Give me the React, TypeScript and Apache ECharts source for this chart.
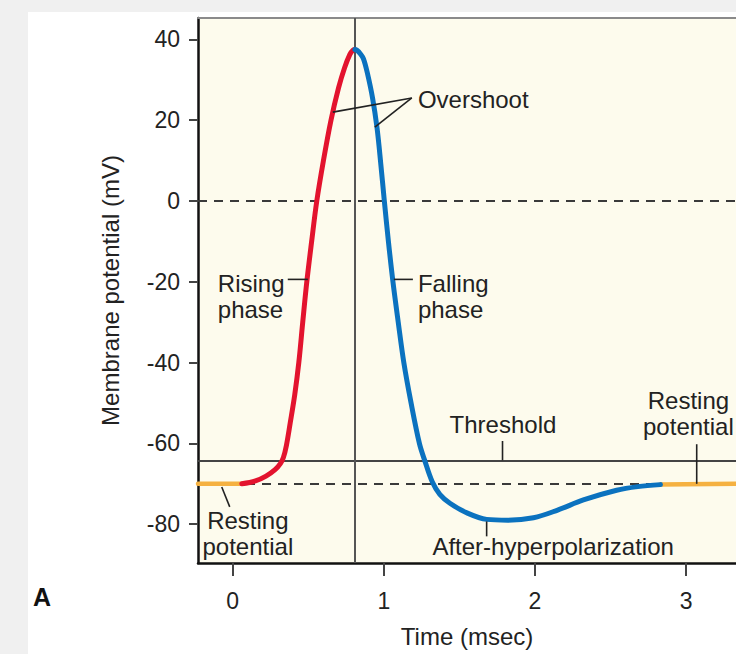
import React, { useEffect, useRef } from "react";
import * as echarts from "echarts";

// ---- data (time in msec, membrane potential in mV) ----
const X_TICKS = [0, 1, 2, 3];
const Y_TICKS = [-80, -60, -40, -20, 0, 20, 40];

const restLeftT = [-0.23, 0.06];
const restLeftV = [-70, -70];

const riseT = [0.06, 0.15, 0.22, 0.28, 0.315, 0.335, 0.355, 0.38, 0.41, 0.437, 0.463, 0.49, 0.522, 0.556, 0.6, 0.65, 0.7, 0.74, 0.775, 0.795, 0.808];
const riseV = [-70, -69.3, -68.1, -66.5, -65, -63.5, -60.5, -55, -48, -40, -30, -20, -10, 0, 10, 20, 28, 33, 36.3, 37.3, 37.5];

const fallT = [0.808, 0.822, 0.845, 0.865, 0.89, 0.925, 0.955, 0.98, 1.003, 1.03, 1.06, 1.095, 1.132, 1.18, 1.235, 1.27, 1.32, 1.37, 1.437, 1.55, 1.68, 1.82, 1.99, 2.15, 2.32, 2.54, 2.68, 2.83];
const fallV = [37.5, 37.3, 36.4, 35.2, 31.8, 25.5, 18, 9, 0, -10, -20, -30, -40, -50, -60, -64.2, -69.5, -72.6, -74.8, -77.2, -78.8, -79, -78.4, -76.5, -74, -71.6, -70.7, -70.2];

const restRightT = [2.83, 3.33];
const restRightV = [-70.2, -70];

const THRESHOLD = -64.2;
const RESTING = -70;
const PEAK_T = 0.808;

const LABELS = [
  { lines: ["Overshoot"], t: 1.225, v: 25.2, align: "left" },
  { lines: ["Rising", "phase"], t: -0.099, v: -20.3, align: "left" },
  { lines: ["Falling", "phase"], t: 1.225, v: -20.3, align: "left" },
  { lines: ["Threshold"], t: 1.788, v: -55.2, align: "center" },
  { lines: ["Resting", "potential"], t: 3.015, v: -49.5, align: "center" },
  { lines: ["Resting", "potential"], t: 0.1, v: -79.2, align: "center" },
  { lines: ["After-hyperpolarization"], t: 2.12, v: -85.6, align: "center" },
];

const LEADERS = [
  [[1.185, 25.5], [0.662, 22]],
  [[1.185, 25.5], [0.94, 18.3]],
  [[0.364, -19.4], [0.497, -19.4]],
  [[1.066, -19.4], [1.192, -19.4]],
  [[1.785, -59.4], [1.785, -64.2]],
  [[3.07, -60.2], [3.07, -70]],
  [[-0.073, -70.8], [-0.02, -75.7]],
  [[1.68, -79.3], [1.68, -83]],
];

const FONT = "'Liberation Sans', Arial, Helvetica, sans-serif";
const zip = (a: number[], b: number[]) => a.map((x, i) => [x, b[i]]);

export default function App() {
  const ref = useRef<HTMLDivElement>(null);

  useEffect(() => {
    if (!ref.current) return;
    const chart = echarts.init(ref.current, null, { renderer: "svg" });
    const curveLine = (color: string, width: number) => ({
      type: "line",
      smooth: 0.35,
      showSymbol: false,
      symbol: "none",
      silent: true,
      lineStyle: { color, width, cap: "round", join: "round" },
      z: 5,
    });
    chart.setOption({
      animation: false,
      backgroundColor: "transparent",
      grid: {
        left: 198,
        top: 18,
        right: 0,
        bottom: 91,
        show: true,
        borderWidth: 0,
        backgroundColor: "#fdfbed",
        containLabel: false,
        outerBoundsMode: "none",
      },
      xAxis: [
        {
          type: "value",
          position: "bottom",
          min: -0.23,
          max: 3.33,
          name: "Time (msec)",
          nameLocation: "middle",
          nameGap: 61,
          nameTextStyle: { fontSize: 24, color: "#222", fontFamily: FONT },
          axisLine: { show: true, onZero: false, lineStyle: { color: "#111", width: 2.5 } },
          axisTick: { show: true, length: 13, customValues: X_TICKS, lineStyle: { color: "#444", width: 2 } },
          axisLabel: { customValues: X_TICKS, fontSize: 23, color: "#222", margin: 26, fontFamily: FONT },
          splitLine: { show: false },
        },
        {
          type: "value",
          position: "top",
          min: -0.23,
          max: 3.33,
          axisLine: { show: true, onZero: false, lineStyle: { color: "#8a8a8a", width: 2 } },
          axisTick: { show: false },
          axisLabel: { show: false },
          splitLine: { show: false },
        },
      ],
      yAxis: {
        type: "value",
        min: -89.6,
        max: 45.3,
        name: "Membrane potential (mV)",
        nameLocation: "middle",
        nameGap: 76,
        nameTextStyle: { fontSize: 24, color: "#222", fontFamily: FONT },
        axisLine: { show: true, onZero: false, lineStyle: { color: "#111", width: 2.5 } },
        axisTick: { show: true, length: 9, customValues: Y_TICKS, lineStyle: { color: "#444", width: 2 } },
        axisLabel: { customValues: Y_TICKS, fontSize: 23, color: "#222", margin: 18, fontFamily: FONT },
        splitLine: { show: false },
      },
      series: [
        {
          type: "line",
          data: [[-0.23, RESTING]],
          showSymbol: false,
          symbol: "none",
          lineStyle: { width: 0 },
          silent: true,
          z: 1,
          markLine: {
            silent: true,
            symbol: ["none", "none"],
            label: { show: false },
            animation: false,
            data: [
              { yAxis: 0, lineStyle: { color: "#3a3a3a", width: 2, type: [9, 7] } },
              { yAxis: RESTING, lineStyle: { color: "#3a3a3a", width: 2, type: [9, 7] } },
              { yAxis: THRESHOLD, lineStyle: { color: "#444", width: 1.8, type: "solid" } },
              { xAxis: PEAK_T, lineStyle: { color: "#555", width: 2, type: "solid" } },
            ],
          },
        },
        { ...curveLine("#f5b141", 4.5), data: zip(restLeftT, restLeftV) },
        { ...curveLine("#f5b141", 4.5), data: zip(restRightT, restRightV) },
        { ...curveLine("#e3132e", 5), data: zip(riseT, riseV) },
        { ...curveLine("#0b72bf", 5), data: zip(fallT, fallV) },
      ],
    });

    const px = (t: number, v: number) =>
      chart.convertToPixel({ xAxisIndex: 0, yAxisIndex: 0 }, [t, v]) as number[];

    const graphics: any[] = [];
    LABELS.forEach((lab) => {
      const [x, y] = px(lab.t, lab.v);
      lab.lines.forEach((line, i) => {
        graphics.push({
          type: "text",
          x,
          y: y + i * 26,
          z: 20,
          style: {
            text: line,
            fill: "#222",
            font: `24px ${FONT}`,
            align: lab.align,
            verticalAlign: "middle",
          },
        });
      });
    });
    LEADERS.forEach(([a, b]) => {
      const [x1, y1] = px(a[0], a[1]);
      const [x2, y2] = px(b[0], b[1]);
      graphics.push({
        type: "line",
        z: 20,
        shape: { x1, y1, x2, y2 },
        style: { stroke: "#222", lineWidth: 1.6 },
      });
    });
    graphics.push({
      type: "text",
      x: 33,
      y: 597,
      z: 20,
      style: { text: "A", fill: "#111", font: `bold 25px ${FONT}`, align: "left", verticalAlign: "middle" },
    });
    chart.setOption({ graphic: graphics });

    return () => chart.dispose();
  }, []);

  return (
    <div style={{ position: "absolute", left: 0, top: 0, width: 736, height: 654, background: "#f0f0f0", overflow: "hidden" }}>
      <div style={{ position: "absolute", left: 28, top: 12, width: 708, height: 642, background: "#ffffff" }} />
      <div ref={ref} style={{ position: "absolute", left: 0, top: 0, width: 736, height: 654 }} />
    </div>
  );
}
